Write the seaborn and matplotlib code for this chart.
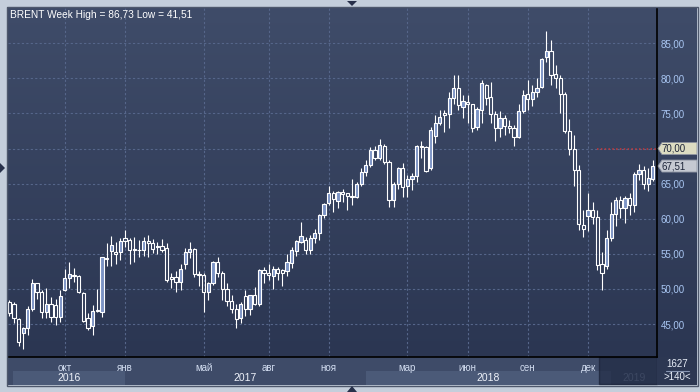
import numpy as np
import pandas as pd
import matplotlib
matplotlib.use("Agg")
import matplotlib.pyplot as plt
import seaborn as sns
from matplotlib.patches import Rectangle, Polygon
from matplotlib.lines import Line2D

# ---------------- data (weekly BRENT candles) ----------------
start_week = "2016-07-11"
opens = [48.1, 47.9, 45.7, 43.7, 44.4, 47.2, 50.8, 49.6, 46.7, 47.8,
         47.7, 46.0, 49.9, 51.6, 52.0, 51.8, 49.4, 45.8, 44.7, 46.9,
         46.7, 54.4, 55.4, 55.3, 55.2, 57.3, 57.0, 55.7, 55.6, 55.5,
         56.9, 56.6, 55.95, 56.1, 55.8, 51.7, 51.7, 51.0, 53.5, 55.2,
         55.7, 52.1, 52.0, 49.5, 50.9, 53.8, 52.2, 50.0, 48.3, 47.1,
         45.8, 49.0, 47.2, 49.1, 47.9, 52.7, 52.3, 51.9, 52.9, 52.7,
         52.6, 53.7, 55.4, 56.7, 57.0, 55.6, 57.2, 57.9, 60.5, 62.3,
         63.7, 62.6, 63.8, 63.6, 63.3, 63.1, 65.0, 66.6, 67.6, 69.8,
         68.7, 70.4, 68.1, 62.7, 64.9, 67.2, 64.6, 65.7, 66.1, 70.4,
         70.2, 67.2, 71.8, 73.6, 75.1, 74.9, 77.2, 78.6, 75.9, 76.6,
         76.3, 73.1, 75.5, 79.1, 77.4, 74.9, 73.0, 74.3, 73.2, 72.9,
         71.7, 75.4, 77.8, 77.0, 78.0, 78.8, 83.1, 83.9, 80.6, 80.0,
         77.8, 72.5, 70.0, 67.0, 59.1, 60.4, 61.3, 60.2, 53.5, 53.2,
         57.3, 60.7, 62.7, 61.5, 62.9, 62.0, 66.4, 66.9, 64.9, 65.6]
highs = [48.4, 48.1, 45.8, 44.6, 47.5, 51.4, 50.9, 49.8, 50.2, 48.9,
         48.5, 49.8, 52.9, 53.8, 53.0, 52.0, 49.6, 46.5, 47.7, 50.0,
         54.6, 56.5, 57.5, 56.7, 57.2, 58.4, 57.2, 57.4, 57.0, 57.4,
         57.7, 57.1, 56.7, 57.1, 56.5, 52.2, 52.5, 53.5, 55.9, 56.7,
         55.8, 52.5, 52.2, 51.0, 54.0, 54.6, 52.5, 50.9, 49.1, 47.8,
         48.2, 49.9, 49.2, 50.3, 52.8, 53.1, 53.6, 53.2, 53.1, 52.8,
         55.0, 56.0, 57.0, 59.6, 57.4, 57.7, 58.5, 60.7, 62.3, 64.7,
         63.9, 64.0, 64.3, 63.7, 65.7, 65.3, 67.2, 68.3, 70.2, 70.4,
         71.3, 70.6, 68.3, 65.3, 67.4, 67.9, 66.2, 66.5, 70.5, 71.1,
         70.4, 73.1, 74.8, 75.5, 75.5, 78.1, 80.5, 80.5, 77.6, 77.6,
         76.4, 75.9, 79.7, 79.2, 79.5, 75.4, 75.3, 74.8, 74.1, 73.4,
         76.4, 78.3, 79.8, 79.0, 80.1, 82.9, 86.73, 85.5, 81.9, 80.5,
         78.1, 74.2, 71.9, 67.6, 61.3, 63.6, 62.4, 61.2, 55.3, 58.4,
         62.4, 63.1, 63.2, 63.2, 63.7, 66.7, 67.8, 67.5, 67.2, 68.3]
lows = [46.2, 45.1, 41.9, 41.51, 43.4, 46.9, 48.6, 45.9, 45.9, 45.3,
        44.8, 45.3, 49.7, 50.1, 51.0, 49.4, 45.3, 44.1, 43.4, 46.7,
        46.0, 53.2, 53.2, 53.6, 54.1, 56.0, 53.6, 53.8, 54.6, 54.7,
        54.5, 55.1, 55.0, 55.2, 51.0, 50.2, 49.6, 49.8, 52.9, 54.4,
        51.7, 50.4, 46.7, 48.4, 50.6, 51.7, 48.4, 47.5, 46.5, 44.4,
        45.1, 46.1, 46.3, 47.7, 47.6, 50.9, 51.3, 50.0, 51.3, 50.4,
        51.8, 53.0, 54.7, 56.5, 55.0, 55.0, 56.6, 57.0, 60.1, 62.0,
        61.0, 61.5, 62.4, 61.2, 61.9, 62.9, 64.6, 66.1, 67.4, 68.3,
        68.3, 67.8, 61.7, 61.7, 64.3, 63.1, 63.1, 64.1, 65.3, 68.7,
        66.7, 67.0, 70.8, 73.4, 72.3, 72.9, 76.4, 75.5, 74.4, 73.7,
        72.3, 72.6, 73.7, 76.2, 73.6, 71.1, 71.7, 71.9, 72.2, 70.3,
        71.5, 75.0, 75.5, 76.0, 77.4, 78.6, 82.4, 79.1, 78.6, 75.1,
        72.2, 69.1, 64.6, 58.4, 57.4, 58.3, 59.2, 52.7, 49.9, 52.9,
        56.9, 58.9, 60.1, 59.4, 60.5, 60.9, 65.5, 64.3, 64.0, 65.4]
closes = [46.5, 45.8, 42.5, 44.4, 47.2, 50.8, 49.6, 46.7, 47.9, 46.0,
          46.0, 49.0, 51.6, 52.1, 51.9, 49.6, 45.5, 44.5, 46.9, 47.0,
          54.5, 54.2, 56.2, 55.0, 56.8, 56.8, 55.5, 55.5, 55.5, 56.8,
          56.6, 55.7, 56.05, 55.6, 51.3, 51.4, 51.0, 52.8, 55.2, 55.7,
          52.1, 52.0, 49.5, 50.9, 53.8, 52.2, 50.0, 48.3, 47.1, 45.7,
          47.9, 47.2, 49.1, 47.9, 52.7, 52.3, 52.0, 52.9, 52.3, 52.3,
          53.8, 55.5, 56.9, 57.5, 55.6, 57.2, 57.9, 60.5, 62.1, 63.6,
          62.8, 63.8, 63.5, 63.3, 63.1, 65.0, 66.6, 67.7, 69.8, 68.7,
          70.5, 68.1, 62.7, 64.9, 67.3, 64.5, 65.7, 66.1, 70.4, 70.2,
          66.8, 72.6, 73.6, 74.5, 74.8, 77.2, 78.7, 76.2, 76.8, 76.3,
          73.0, 75.6, 79.4, 77.2, 74.9, 73.0, 74.3, 73.2, 72.9, 71.7,
          75.4, 77.6, 77.0, 78.0, 78.7, 82.7, 83.9, 80.5, 80.0, 77.8,
          72.5, 69.9, 67.0, 59.2, 58.6, 61.3, 60.2, 53.4, 52.2, 57.3,
          60.7, 62.7, 61.5, 62.9, 62.0, 66.4, 66.9, 64.9, 65.8, 67.51]

month_starts = ["2016-10-01", "2017-01-01", "2017-05-01", "2017-08-01", "2017-11-01",
                "2018-03-01", "2018-06-01", "2018-09-01", "2018-12-01"]
month_labels = ["окт", "янв", "май", "авг", "ноя", "мар", "июн", "сен", "дек"]
years = [2016, 2017, 2018, 2019]
price_ticks = [45, 50, 55, 60, 65, 70, 75, 80, 85]
title = "BRENT Week High = 86,73 Low = 41,51"
level_price = 70.00
last_price = 67.51
footer_top = "1627"
footer_bottom = ">140<"

# ---------------- style ----------------
sns.set_theme(style="dark")
plt.rcParams["font.family"] = ["Liberation Sans", "DejaVu Sans"]

W, H = 700, 392
fig = plt.figure(figsize=(7, 3.92), dpi=100)
fig.patch.set_facecolor("#c4cedb")


def P(x, y):
    return (x / W, 1 - y / H)


def px_axes(x0, y0, x1, y1, **kw):
    return fig.add_axes([x0 / W, 1 - y1 / H, (x1 - x0) / W, (y1 - y0) / H], **kw)


def fig_rect(x0, y0, x1, y1, **kw):
    r = Rectangle(P(x0, y1), (x1 - x0) / W, (y1 - y0) / H, transform=fig.transFigure, **kw)
    fig.add_artist(r)
    return r


df = pd.DataFrame({"week": pd.date_range(start_week, periods=len(opens), freq="W-MON"),
                   "open": opens, "high": highs, "low": lows, "close": closes})
df["idx"] = np.arange(len(df))

XLIM = (-0.28, 139.9)
YLIM = (40.3, 90.03)

# background gradient panel (plot + right scale)
bg = px_axes(7, 7, 697, 357)
bg.set_axis_off()
grad = np.linspace(0, 1, 256)[:, None]
top_c = np.array([0x3f, 0x4c, 0x69]) / 255
bot_c = np.array([0x2b, 0x36, 0x52]) / 255
img = top_c[None, None, :] * (1 - grad[:, :, None]) + bot_c[None, None, :] * grad[:, :, None]
bg.imshow(img, aspect="auto", extent=(0, 1, 0, 1))
bg.set_xlim(0, 1); bg.set_ylim(0, 1)
bg.set_zorder(0)

# bottom time panel
bx = px_axes(8, 357, 657, 385)
bx.set_zorder(1)
bx.set_facecolor("#3e4b68")
bx.set_xlim(*XLIM); bx.set_ylim(0, 1)
for s in bx.spines.values():
    s.set_visible(False)
bx.set_xticks([]); bx.set_yticks([])

wk = df["week"]
year_start = {}
for y in years:
    m = np.nonzero((wk >= pd.Timestamp(f"{y}-01-01")).to_numpy())[0]
    year_start[y] = m[0] if len(m) else XLIM[1]
bounds = [0.8] + [year_start[y] for y in years[1:]] + [XLIM[1]]
band_cols = ["#4b5a78", "#3e4b68", "#4b5a78", "#3e4b68"]
for i, y in enumerate(years):
    a, b = bounds[i], bounds[i + 1]
    bx.add_patch(Rectangle((a, 0.0), b - a, 0.5, color=band_cols[i], lw=0))
    bx.text((a + b) / 2, 0.26, str(y), ha="center", va="center", fontsize=7.5,
            color="#8290ad" if y == 2019 else "#eef2fa", zorder=5)

# 2019 overlay box
fig_rect(599, 357, 657, 384, facecolor="#1f2942", alpha=0.7, edgecolor="#1a2238", lw=1, zorder=3)

# bottom-right counter box
fig_rect(657, 357, 697, 385, facecolor="#2c3752", edgecolor="none", zorder=3.5)
fig.text(677 / W, 1 - 364.3 / H, footer_top, ha="center", va="center", fontsize=7,
         color="#e8eef8", zorder=8)
fig.text(677 / W, 1 - 377.5 / H, footer_bottom, ha="center", va="center", fontsize=7,
         color="#e8eef8", zorder=8)
fig.add_artist(Line2D([666 / W, 689 / W], [1 - 371 / H, 1 - 371 / H], transform=fig.transFigure,
                      color="#8795b2", lw=0.8, zorder=8))

# main price axes
ax = px_axes(8, 8, 657, 357)
ax.set_zorder(4)
ax.set_facecolor("none")
ax.set_xlim(*XLIM)
ax.set_ylim(*YLIM)

o = df["open"].to_numpy(); c = df["close"].to_numpy()
h = df["high"].to_numpy(); l = df["low"].to_numpy()
x = df["idx"].to_numpy()
up = c >= o
btm = np.minimum(o, c)
top = np.maximum(o, c)
hgt = np.maximum(top - btm, 0.1)

LW = 0.8
ax.vlines(x, top, h, color="white", lw=LW, zorder=3)
ax.vlines(x, l, btm, color="white", lw=LW, zorder=3)
ax.bar(x[up], hgt[up], bottom=btm[up], width=0.7, facecolor="#7c94c5",
       edgecolor="white", linewidth=LW, zorder=4)
ax.bar(x[~up], hgt[~up], bottom=btm[~up], width=0.7, facecolor="none",
       edgecolor="white", linewidth=LW, zorder=4)

# grid and ticks
tick_idx = [int(np.nonzero((wk >= pd.Timestamp(d)).to_numpy())[0][0]) for d in month_starts]
ax.set_xticks(tick_idx)
ax.set_xticklabels(month_labels)
ax.set_yticks(price_ticks)
ax.set_yticklabels([f"{v:.2f}".replace(".", ",") for v in price_ticks])
ax.yaxis.tick_right()
ax.grid(True, color="#56668a", ls=(0, (2, 2)), lw=0.8)
ax.tick_params(axis="x", length=0, pad=4.5, labelsize=7, labelcolor="#d2ddf0")
ax.tick_params(axis="y", length=0, pad=2.5, labelsize=7, labelcolor="#a9c6f2")
for k, s in ax.spines.items():
    s.set_visible(k in ("right", "bottom"))
    s.set_color("black"); s.set_linewidth(1.2)

# level line and markers
ax.axhline(level_price, xmin=(597 - 8) / 649, xmax=1, color="#c8383a",
           ls=(0, (1, 1.5)), lw=1.1, zorder=2)

rax = px_axes(657, 8, 697, 357)
rax.set_zorder(5)
rax.set_facecolor("none")
rax.set_axis_off()
rax.set_xlim(0, 40); rax.set_ylim(*YLIM)
hh = 6 / 7.018
for price, fc in ((level_price, "#dcdcc2"), (last_price, "#c5c9d2")):
    rax.add_patch(Polygon([(1, price), (5, price + hh), (40, price + hh), (40, price - hh), (5, price - hh)],
                          closed=True, facecolor=fc, edgecolor="#8d93a0", lw=0.6))
    rax.text(4.5, price, f"{price:.2f}".replace(".", ","), ha="left", va="center",
             fontsize=7, color="#1c2438")

# title
fig.text(10 / W, 1 - 15.5 / H, title, ha="left", va="center", fontsize=7.3, color="white", zorder=10)

# outer frame
fig_rect(6.5, 6.5, 697.5, 385.5, facecolor="none", edgecolor="#4e586c", lw=1, zorder=6)

# small navigation triangles
for pts in ([(347, 1), (357, 1), (352, 6)], [(347, 392), (357, 392), (352, 386)],
            [(0, 163), (0, 173), (5, 168)]):
    fig.add_artist(Polygon([P(*p) for p in pts], closed=True, transform=fig.transFigure,
                           facecolor="#27304a", edgecolor="none", zorder=7))

fig.savefig("out.png", dpi=100, facecolor=fig.get_facecolor())
